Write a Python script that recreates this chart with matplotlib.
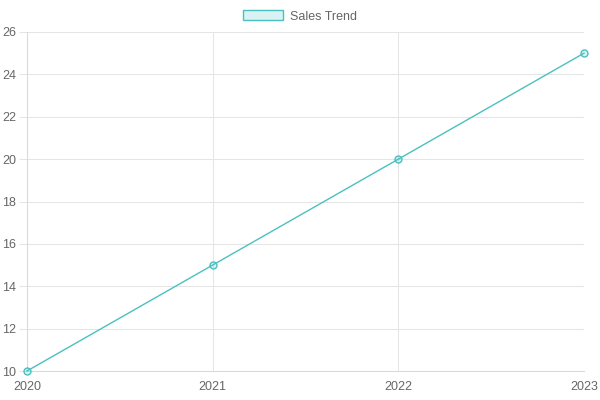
import matplotlib.pyplot as plt
from matplotlib.patches import Patch

plt.rcParams['font.family'] = ['Liberation Sans', 'DejaVu Sans']

# 数据
years = ['2020', '2021', '2022', '2023']
sales = [10, 15, 20, 25]

line_color = (75/255, 192/255, 192/255)
fill_color = (75/255, 192/255, 192/255, 0.2)
grid_color = '#e5e5e5'
text_color = '#666666'

fig = plt.figure(figsize=(6, 4), dpi=100)
ax = fig.add_axes([27/600, 1 - 371/400, (584 - 27)/600, (371 - 32)/400])

x = list(range(len(years)))
ax.plot(x, sales, color=line_color, linewidth=1, marker='o', markersize=5,
        markerfacecolor=fill_color, markeredgecolor=line_color, markeredgewidth=1,
        clip_on=False, zorder=3)

ax.set_xlim(0, len(years) - 1)
ax.set_ylim(10, 26)
ax.set_xticks(x)
ax.set_xticklabels(years)
ax.set_yticks(range(10, 27, 2))

ax.grid(True, color=grid_color, linewidth=0.75)
ax.set_axisbelow(True)
for s in ax.spines.values():
    s.set_color('#d9d9d9')
    s.set_linewidth(0.75)
ax.spines['top'].set_visible(False)
ax.spines['right'].set_visible(False)

ax.tick_params(axis='y', length=6, width=0.75, color=grid_color, pad=2, labelsize=9, labelcolor=text_color)
ax.tick_params(axis='x', length=0, pad=7, labelsize=9, labelcolor=text_color)

# 图例
handle = Patch(facecolor=fill_color, edgecolor=line_color, linewidth=1, label='Sales Trend')
fig.legend(handles=[handle], loc='upper center', bbox_to_anchor=(0.5, 1.0),
           frameon=False, fontsize=9, labelcolor=text_color,
           handlelength=3.2, handleheight=0.9, handletextpad=0.5, borderaxespad=0.4)

plt.savefig('out.png')
